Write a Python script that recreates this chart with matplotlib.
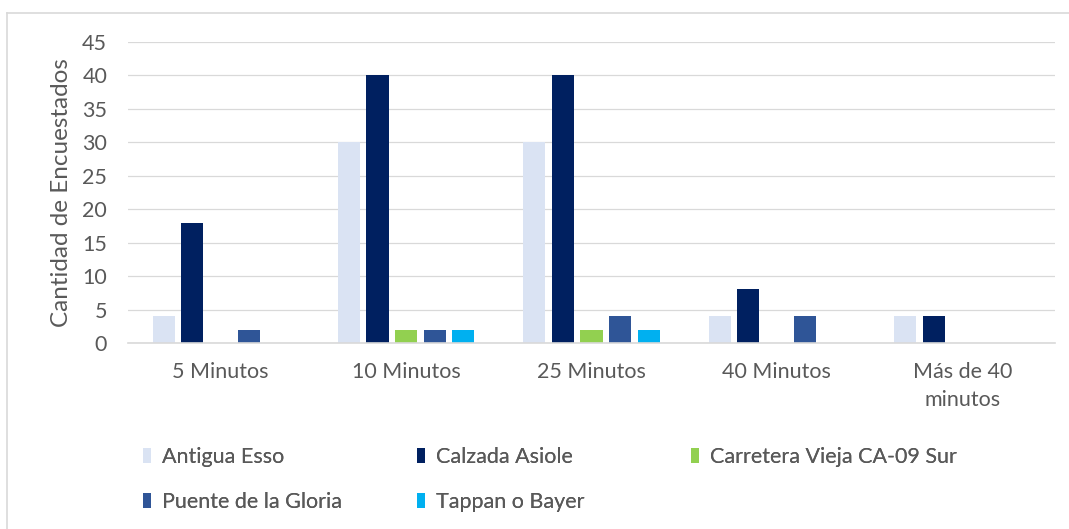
import numpy as np
import matplotlib.pyplot as plt
from matplotlib.lines import Line2D

categorias = ['5 Minutos', '10 Minutos', '25 Minutos', '40 Minutos', 'Más de 40\nminutos']
series = ['Antigua Esso', 'Calzada Asiole', 'Carretera Vieja CA-09 Sur',
          'Puente de la Gloria', 'Tappan o Bayer']
antigua_esso = [4, 30, 30, 4, 4]
calzada_asiole = [18, 40, 40, 8, 4]
carretera_vieja = [0, 2, 2, 0, 0]
puente_gloria = [2, 2, 4, 4, 0]
tappan_bayer = [0, 2, 2, 0, 0]
yticks = [0, 5, 10, 15, 20, 25, 30, 35, 40, 45]

valores = [antigua_esso, calzada_asiole, carretera_vieja, puente_gloria, tappan_bayer]
colores = ['#DAE3F3', '#002060', '#92D050', '#2F5597', '#00B0F0']
gris = '#595959'

plt.rcParams['font.family'] = ['Lato', 'DejaVu Sans']

fig = plt.figure(figsize=(10.69, 5.29), dpi=100)
ax = fig.add_axes([0.1197, 0.3516, 0.8672, 0.569])

x = np.arange(len(categorias))
paso = 0.154
ancho = 0.119
barras = []
for i, (nombre, vals, c) in enumerate(zip(series, valores, colores)):
    b = ax.bar(x + (i - 2) * paso, vals, ancho, color=c, label=nombre, zorder=3)
    barras.append(b)

ax.set_xlim(-0.5, len(categorias) - 0.5)
ax.set_ylim(0, 45)
ax.set_yticks(yticks)
ax.set_xticks(x)
ax.set_xticklabels(categorias, linespacing=1.45)
ax.tick_params(axis='y', length=0, pad=15, labelsize=15.5, labelcolor=gris)
ax.tick_params(axis='x', length=0, pad=14, labelsize=15.5, labelcolor=gris)
ax.grid(axis='y', color='#D9D9D9', linewidth=0.9, zorder=0)
for s in ['top', 'right', 'left']:
    ax.spines[s].set_visible(False)
ax.spines['bottom'].set_color('#D9D9D9')
ax.spines['bottom'].set_linewidth(1.2)
ax.spines['bottom'].set_zorder(4)

ax.set_ylabel('Cantidad de Encuestados', fontsize=17.5, color=gris, va='center')
ax.yaxis.set_label_coords(-0.072, 0.5)

# legend: equal width columns, two rows
col_x = [143, 417, 691]
fila_y = [457, 502]
W, H = 1069, 529
for i, b in enumerate(barras):
    cx = col_x[i % 3]
    cy = fila_y[i // 3]
    leg = fig.legend(handles=[b], labels=[series[i]], loc='center left',
                     bbox_to_anchor=(cx / W, 1 - cy / H), frameon=False,
                     fontsize=15.5, labelcolor=gris, handlelength=0.35,
                     handleheight=0.65, handletextpad=0.55, borderpad=0,
                     borderaxespad=0)
    fig.add_artist(leg)

# outer frame (only top and left edges visible)
fig.add_artist(Line2D([7 / W, 1], [1 - 13 / H, 1 - 13 / H], color='#D9D9D9',
                      linewidth=1.2, transform=fig.transFigure))
fig.add_artist(Line2D([7 / W, 7 / W], [0, 1 - 13 / H], color='#D9D9D9',
                      linewidth=1.2, transform=fig.transFigure))

fig.savefig('out.png', dpi=100)
